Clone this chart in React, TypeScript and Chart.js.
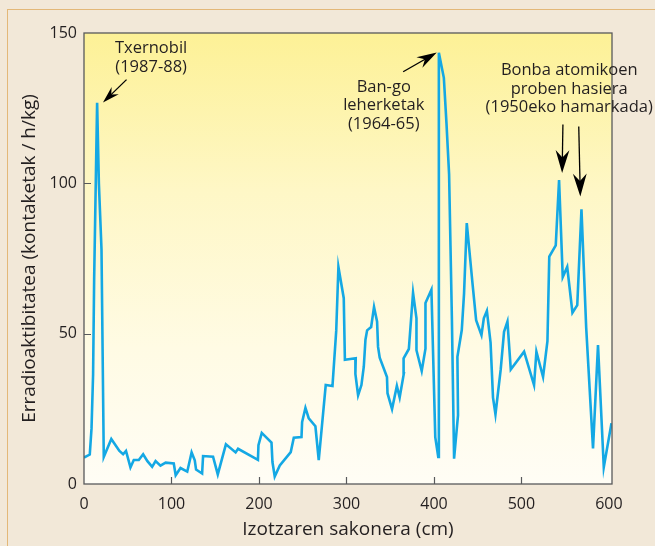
import React, { useEffect, useRef } from 'react';
import { Chart, registerables } from 'chart.js';

Chart.register(...registerables);

// Depth (cm) and radioactivity (counts / h/kg)
const depth = [
  0, 6.6, 8.6, 10.4, 11.6, 13.5, 15, 17, 20, 22.6,
  31.2, 40.5, 44.7, 48, 53.1, 56.9, 62.6, 67.6, 72.5, 77.9,
  81.8, 87.4, 93.3, 102.6, 104.8, 110.3, 118, 123, 126.6, 128.1,
  135, 136.1, 147.5, 152.9, 162.2, 173.3, 176.1, 198.8, 199.4, 203.2,
  214.3, 215.4, 218, 223.8, 236.3, 239.8, 248.6, 249.3, 253.1, 256.9,
  264.5, 268.3, 276.3, 284, 288.3, 290.8, 296.9, 298.2, 310.6, 310.2,
  313.3, 317.1, 319.8, 321.7, 323.6, 328.2, 331.5, 335, 336.1, 338,
  346.3, 346.9, 352.1, 357.6, 360.8, 365.6, 365.3, 371.3, 376.1, 380,
  380, 386, 390.3, 390.3, 397.1, 401.5, 404.9, 405.6, 411.3, 414.3,
  417.3, 420.5, 423, 427.5, 426.8, 431.8, 434.4, 437.5, 444.3, 448.2,
  454.3, 457, 460.5, 464.7, 467.5, 470.3, 476.3, 480.1, 484, 487.8,
  503, 514.4, 517.1, 524.7, 529.7, 531.8, 539.2, 543, 547.2, 552.3,
  558.3, 563.8, 568.6, 574, 581.8, 587.5, 594.1, 602.9,
];
const activity = [
  8.8, 9.8, 18.5, 36.5, 68, 101, 126.8, 100, 78, 9,
  15, 11, 9.9, 11, 5.5, 8, 8, 9.9, 7.6, 5.7,
  7.6, 6.1, 7.1, 6.8, 2.9, 5.3, 4.1, 10.5, 7.9, 4.8,
  3.5, 9.3, 9.1, 3.2, 13.2, 10.5, 11.7, 8, 12.9, 17,
  13.8, 7.3, 2.5, 6.2, 10.6, 15.4, 15.6, 20.6, 25.3, 21.8,
  19.2, 7.9, 32.9, 32.6, 51, 72.2, 61.8, 41.3, 41.8, 36.6,
  29.5, 32.9, 39, 48, 51.1, 52.2, 58.9, 54, 45.6, 42,
  35.6, 30.2, 24.9, 32.6, 28.8, 36.8, 41.8, 44.9, 63.6, 55.1,
  44.5, 37.6, 45, 60.2, 64.6, 15.6, 9, 143.4, 135.1, 120,
  103, 55, 8.4, 22.9, 42.3, 51.2, 63.4, 86.8, 66, 54.5,
  49.5, 55.1, 57.6, 47, 28.7, 23.2, 38.1, 50.6, 54, 38.1,
  44, 32.9, 44, 35.6, 47.5, 75.6, 79.4, 101.1, 68.8, 72.2,
  57, 59.5, 91.4, 52, 11.8, 46.2, 5.6, 20.2,
];

const xTicks = [0, 100, 200, 300, 400, 500, 600];
const yTicks = [0, 50, 100, 150];
const xMin = 0;
const xMax = 603.5;
const yMin = 0;
const yMax = 150;
const xTitle = 'Izotzaren sakonera (cm)';
const yTitle = 'Erradioaktibitatea (kontaketak / h/kg)';

// Annotation texts (anchor in data units: centre x, first-line y)
const noteLines = [
  ['Txernobil', '(1987-88)'],
  ['Ban-go', 'leherketak', '(1964-65)'],
  ['Bonba atomikoen', 'proben hasiera', '(1950eko hamarkada)'],
];
const noteX = [76.7, 342.6, 554.6];
const noteY = [144.9, 132, 137.5];
// Arrows: [fromX, fromY, toX, toY, headLength]
const arrowFromX = [48.6, 364.8, 547.4, 565.5];
const arrowFromY = [134.5, 137.1, 119.6, 118.9];
const arrowToX = [21.7, 403.2, 546.5, 567.3];
const arrowToY = [126.9, 143.5, 103.4, 95.6];
const arrowHead = [17, 20, 23, 23];

const FONT = '"Open Sans", "DejaVu Sans", sans-serif';
const TEXT = '#231f20';
const LINE = '#14a8e4';
const FRAME = '#58595b';

const decorPlugin = {
  id: 'decor',
  beforeDatasetsDraw(chart: any) {
    const { ctx, chartArea: a } = chart;
    const g = ctx.createLinearGradient(0, a.top, 0, a.bottom);
    g.addColorStop(0, '#fdf196');
    g.addColorStop(0.35, '#fef7c6');
    g.addColorStop(0.7, '#fffbe4');
    g.addColorStop(1, '#fffdf5');
    ctx.save();
    ctx.fillStyle = g;
    ctx.fillRect(a.left, a.top, a.right - a.left, a.bottom - a.top);
    ctx.restore();
  },
  afterDatasetsDraw(chart: any) {
    const { ctx, chartArea: a, scales } = chart;
    const xs = scales.x;
    const ys = scales.y;
    ctx.save();
    ctx.strokeStyle = FRAME;
    ctx.lineWidth = 1.3;
    ctx.strokeRect(a.left, a.top, a.right - a.left, a.bottom - a.top);
    ctx.lineWidth = 1.2;
    ctx.beginPath();
    xTicks.forEach((v) => {
      if (v <= xMin || v >= 600) return;
      const px = Math.round(xs.getPixelForValue(v)) + 0.5;
      ctx.moveTo(px, a.bottom);
      ctx.lineTo(px, a.bottom - 7);
    });
    yTicks.forEach((v) => {
      if (v <= yMin || v >= yMax) return;
      const py = Math.round(ys.getPixelForValue(v)) + 0.5;
      ctx.moveTo(a.left, py);
      ctx.lineTo(a.left + 7, py);
    });
    ctx.stroke();
    ctx.restore();
  },
  afterDraw(chart: any) {
    const { ctx, scales } = chart;
    const xs = scales.x;
    const ys = scales.y;
    ctx.save();
    ctx.fillStyle = TEXT;
    ctx.font = `16.5px ${FONT}`;
    ctx.textAlign = 'center';
    ctx.textBaseline = 'middle';
    noteLines.forEach((lines, i) => {
      const cx = xs.getPixelForValue(noteX[i]);
      const cy = ys.getPixelForValue(noteY[i]);
      lines.forEach((t, j) => ctx.fillText(t, cx, cy + j * 18.6));
    });
    ctx.strokeStyle = '#000';
    ctx.fillStyle = '#000';
    arrowFromX.forEach((_, i) => {
      const x1 = xs.getPixelForValue(arrowFromX[i]);
      const y1 = ys.getPixelForValue(arrowFromY[i]);
      const x2 = xs.getPixelForValue(arrowToX[i]);
      const y2 = ys.getPixelForValue(arrowToY[i]);
      const L = arrowHead[i];
      const ang = Math.atan2(y2 - y1, x2 - x1);
      const ux = Math.cos(ang);
      const uy = Math.sin(ang);
      const nx = -uy;
      const ny = ux;
      const hw = L * 0.3;
      ctx.lineWidth = 1.3;
      ctx.beginPath();
      ctx.moveTo(x1, y1);
      ctx.lineTo(x2 - ux * L * 0.6, y2 - uy * L * 0.6);
      ctx.stroke();
      ctx.beginPath();
      ctx.moveTo(x2, y2);
      ctx.lineTo(x2 - ux * L + nx * hw, y2 - uy * L + ny * hw);
      ctx.lineTo(x2 - ux * L * 0.68, y2 - uy * L * 0.68);
      ctx.lineTo(x2 - ux * L - nx * hw, y2 - uy * L - ny * hw);
      ctx.closePath();
      ctx.fill();
    });
    ctx.restore();
  },
};

export default function App() {
  const ref = useRef<HTMLCanvasElement | null>(null);

  useEffect(() => {
    if (!ref.current) return;
    const points = depth.map((d, i) => ({ x: d, y: activity[i] }));
    const chart = new Chart(ref.current, {
      type: 'line',
      data: {
        datasets: [
          {
            data: points,
            borderColor: LINE,
            borderWidth: 2.6,
            pointRadius: 0,
            tension: 0,
            fill: false,
            borderJoinStyle: 'miter',
          },
        ],
      },
      options: {
        animation: false,
        responsive: false,
        devicePixelRatio: 1,
        parsing: false,
        layout: { padding: { top: 33, right: 43, left: 0, bottom: 0 } },
        plugins: { legend: { display: false }, tooltip: { enabled: false } },
        scales: {
          x: {
            type: 'linear',
            min: xMin,
            max: xMax,
            afterBuildTicks: (s: any) => {
              s.ticks = xTicks.map((v) => ({ value: v }));
            },
            afterFit: (s: any) => {
              s.height = 62;
            },
            grid: { display: false, drawTicks: false },
            border: { display: false },
            ticks: {
              color: TEXT,
              font: { family: FONT, size: 16 },
              padding: 11,
              maxRotation: 0,
              autoSkip: false,
            },
            title: {
              display: true,
              text: xTitle,
              color: TEXT,
              font: { family: FONT, size: 19 },
              padding: { top: 0, bottom: 5 },
            },
          },
          y: {
            type: 'linear',
            min: yMin,
            max: yMax,
            afterBuildTicks: (s: any) => {
              s.ticks = yTicks.map((v) => ({ value: v }));
            },
            afterFit: (s: any) => {
              s.width = 84;
            },
            grid: { display: false, drawTicks: false },
            border: { display: false },
            ticks: {
              color: TEXT,
              font: { family: FONT, size: 16 },
              padding: 7,
              autoSkip: false,
            },
            title: {
              display: true,
              text: yTitle,
              color: TEXT,
              font: { family: FONT, size: 19 },
              padding: { top: 18, bottom: 0 },
            },
          },
        },
      },
      plugins: [decorPlugin],
    } as any);
    return () => chart.destroy();
  }, []);

  return (
    <div
      style={{
        position: 'fixed',
        left: 0,
        top: 0,
        width: 655,
        height: 546,
        background: '#f2e8d8',
        overflow: 'hidden',
      }}
    >
      <div
        style={{
          position: 'absolute',
          left: 7,
          top: 9,
          width: 700,
          height: 600,
          borderLeft: '1.5px solid #e3b878',
          borderTop: '1.5px solid #e3b878',
        }}
      />
      <canvas
        ref={ref}
        width={655}
        height={546}
        style={{ position: 'absolute', left: 0, top: 0, width: 655, height: 546 }}
      />
    </div>
  );
}
